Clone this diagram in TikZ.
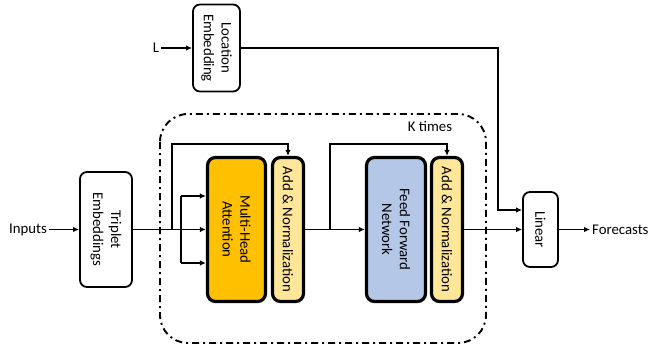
\documentclass[tikz,border=0pt]{standalone}
\usepackage{fontspec}
\setmainfont{Carlito}
\usetikzlibrary{arrows.meta}
\definecolor{mhaorange}{HTML}{FFC000}
\definecolor{addyellow}{HTML}{FFE699}
\definecolor{ffnblue}{HTML}{B4C7E7}
\begin{document}
\begin{tikzpicture}[x=1pt,y=-1pt,
 every node/.style={font=\fontsize{14.8}{17.8}\selectfont},
 thinbox/.style={draw, line width=1.8pt, rounded corners=7pt, inner sep=0pt, fill=white},
 thickbox/.style={draw, line width=3.2pt, rounded corners=8pt, inner sep=0pt},
 lbl/.style={rotate=-90, align=center, inner sep=0pt},
 conn/.style={line width=1.8pt, -{Latex[length=6pt,width=5.5pt]}},
 plainline/.style={line width=1.8pt},
 kbox/.style={line width=1.9pt, rounded corners=28pt, dash pattern=on 7pt off 4pt on 2pt off 4pt},
]
\useasboundingbox[fill=white] (0,0) rectangle (651,357);

% container
\draw[kbox] (160,114) rectangle (486,343);
\node (ktimes) at (430,126) {K times};

% boxes
\node[thinbox, minimum width=47pt, minimum height=87pt] (loc) at (216.5,48) {};
\node[lbl] (loctxt) at (loc) {Location\\Embedding};
\node[thinbox, minimum width=52pt, minimum height=115pt] (trip) at (106,229.5) {};
\node[lbl] (triptxt) at (trip) {Triplet\\Embeddings};
\node[thickbox, fill=mhaorange, minimum width=58pt, minimum height=144pt] (mha) at (236.5,229.5) {};
\node[lbl] (mhatxt) at (mha) {Multi-Head\\Attention};
\node[thickbox, fill=addyellow, minimum width=31pt, minimum height=144pt] (an1) at (288,229.5) {};
\node[lbl] (an1txt) at (an1) {Add \& Normalization};
\node[thickbox, fill=ffnblue, minimum width=59pt, minimum height=144pt] (ffn) at (396,229.5) {};
\node[lbl] (ffntxt) at (ffn) {Feed Forward\\Network};
\node[thickbox, fill=addyellow, minimum width=31pt, minimum height=144pt] (an2) at (447,229.5) {};
\node[lbl] (an2txt) at (an2) {Add \& Normalization};
\node[thinbox, minimum width=35pt, minimum height=75pt] (lin) at (540.5,229.5) {};
\node[lbl] (lintxt) at (lin) {Linear};

% labels
\node[inner sep=2pt] (inp) at (28,229.5) {Inputs};
\node[inner sep=2pt] (ltxt) at (156,48) {L};
\node[inner sep=2pt, anchor=west] (fc) at (590,229.5) {Forecasts};

% coordinates
\coordinate (s1) at (172,229.5);
\coordinate (b1) at (181,196);
\coordinate (b3) at (181,263);
\coordinate (top1) at (288,144);
\coordinate (s3) at (330,229.5);
\coordinate (top2) at (447,144);
\coordinate (c0) at (498,48);
\coordinate (c1) at (498,210);

% connectors
\draw[conn] (inp.east) -- (trip.west);
\draw[conn] (ltxt.east) -- (loc.west);
\draw[conn] (trip.east) -- (mha.west);
\draw[plainline] (b1) -- (b3);
\draw[conn] (b1) -- (b1 -| mha.west);
\draw[conn] (b3) -- (b3 -| mha.west);
\draw[conn] (s1) -- (s1 |- top1) -- (top1) -- (an1.north);
\draw[conn] (an1.east) -- (ffn.west);
\draw[conn] (s3) -- (s3 |- top2) -- (top2) -- (an2.north);
\draw[conn] (an2.east) -- (lin.west);
\draw[conn] (loc.east) -- (c0) -- (c1) -- (c1 -| lin.west);
\draw[conn] (lin.east) -- (fc.west);
\end{tikzpicture}
\end{document}
